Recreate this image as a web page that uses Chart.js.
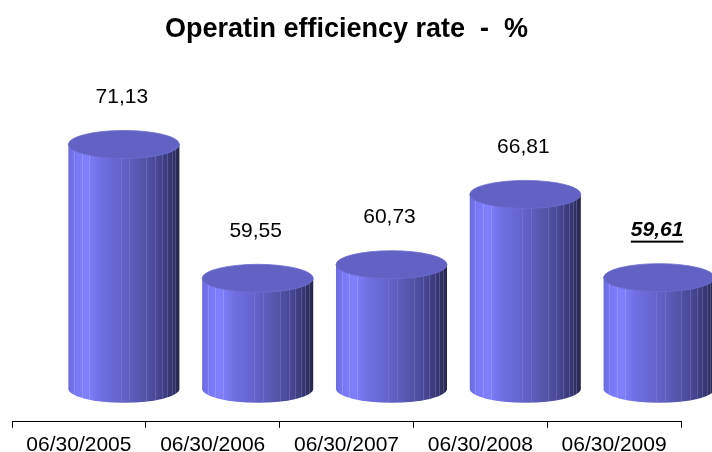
<!DOCTYPE html>
<html>
<head>
<meta charset="utf-8">
<script src="https://cdn.jsdelivr.net/npm/chart.js@4/dist/chart.umd.min.js"></script>
<style>
  html, body { margin: 0; padding: 0; background: #ffffff; }
  #wrap { width: 712px; height: 452px; }
</style>
</head>
<body>
<div id="wrap"><canvas id="c" width="712" height="452"></canvas></div>
<script>
// ---- data ----
const categories = ['06/30/2005', '06/30/2006', '06/30/2007', '06/30/2008', '06/30/2009'];
const efficiencyRate = [71.13, 59.55, 60.73, 66.81, 59.61];
const valueLabels = ['71,13', '59,55', '60,73', '66,81', '59,61'];
const highlightIndex = 4;
const chartTitle = 'Operatin efficiency rate  -  %';
const floorValue = 50;

// ---- cylinder drawing plugin ----
const cylinderPlugin = {
  id: 'cylinders',
  afterDatasetsDraw(chart) {
    const ctx = chart.ctx;
    const meta = chart.getDatasetMeta(0);
    const yScale = chart.scales.y;
    const depthX = 45;
    const ry = 14;
    const baseY = yScale.getPixelForValue(floorValue);
    ctx.save();
    meta.data.forEach((bar, i) => {
      const cx = bar.x + depthX;
      const w = bar.width;
      const x0 = cx - w / 2, x1 = cx + w / 2;
      const topY = bar.y;
      const g = ctx.createLinearGradient(x0, 0, x1, 0);
      g.addColorStop(0.00, '#6a6ae0');
      g.addColorStop(0.08, '#7a7af8');
      g.addColorStop(0.16, '#8080ff');
      g.addColorStop(0.30, '#6e6ee0');
      g.addColorStop(0.50, '#6262c8');
      g.addColorStop(0.65, '#5656ae');
      g.addColorStop(0.80, '#484894');
      g.addColorStop(0.92, '#363670');
      g.addColorStop(1.00, '#262648');
      ctx.beginPath();
      ctx.moveTo(x0, topY);
      ctx.lineTo(x0, baseY);
      ctx.ellipse(cx, baseY, w / 2, ry, 0, Math.PI, 0, true);
      ctx.lineTo(x1, topY);
      ctx.closePath();
      ctx.fillStyle = g;
      ctx.fill();
      const stripes = [0.05, 0.12, 0.19, 0.47, 0.55, 0.70, 0.78, 0.84, 0.89, 0.93, 0.96];
      ctx.save();
      ctx.clip();
      stripes.forEach((s, k) => {
        const sx = Math.round(x0 + s * w) + 0.5;
        ctx.strokeStyle = k < 3 ? 'rgba(170,170,255,0.45)' : 'rgba(140,140,220,0.35)';
        ctx.lineWidth = 1;
        ctx.beginPath();
        ctx.moveTo(sx, topY);
        ctx.lineTo(sx, baseY + ry + 2);
        ctx.stroke();
      });
      ctx.restore();
      ctx.beginPath();
      ctx.ellipse(cx, topY, w / 2, ry, 0, 0, Math.PI * 2);
      ctx.fillStyle = '#6262c4';
      ctx.fill();
      ctx.strokeStyle = 'rgba(110,110,210,0.8)';
      ctx.lineWidth = 1;
      ctx.stroke();

      const lx = cx - 2;
      const ly = topY - 47;
      const hl = i === highlightIndex;
      ctx.font = (hl ? 'italic bold ' : '') + '21px "Liberation Sans", Arial, sans-serif';
      ctx.fillStyle = '#000000';
      ctx.textAlign = 'center';
      ctx.textBaseline = 'middle';
      ctx.fillText(valueLabels[i], lx, ly);
      if (hl) {
        const tw = ctx.measureText(valueLabels[i]).width;
        ctx.fillRect(lx - tw / 2, ly + 10, tw, 2);
      }
    });
    ctx.restore();
  }
};

new Chart(document.getElementById('c'), {
  type: 'bar',
  data: {
    labels: categories,
    datasets: [{
      data: efficiencyRate,
      backgroundColor: 'rgba(0,0,0,0)',
      borderWidth: 0,
      barPercentage: 0.83,
      categoryPercentage: 1.0,
      base: floorValue
    }]
  },
  options: {
    responsive: false,
    animation: false,
    events: [],
    layout: { padding: { left: 12, right: 31, top: 0, bottom: -11 } },
    plugins: {
      legend: { display: false },
      tooltip: { enabled: false },
      title: {
        display: true,
        text: chartTitle,
        color: '#000000',
        font: { family: '"Liberation Sans", Arial, sans-serif', size: 27, weight: 'bold' },
        padding: { top: 13, bottom: 15 }
      }
    },
    scales: {
      y: {
        display: false,
        min: 47.14,
        max: 78.4
      },
      x: {
        offset: true,
        border: { display: true, color: '#000000', width: 1 },
        grid: {
          offset: true,
          drawOnChartArea: false,
          drawTicks: true,
          tickLength: 6,
          color: '#000000',
          lineWidth: 1
        },
        ticks: {
          color: '#000000',
          padding: 5,
          maxRotation: 0,
          font: { family: '"Liberation Sans", Arial, sans-serif', size: 21 }
        }
      }
    }
  },
  plugins: [cylinderPlugin]
});
</script>
</body>
</html>
